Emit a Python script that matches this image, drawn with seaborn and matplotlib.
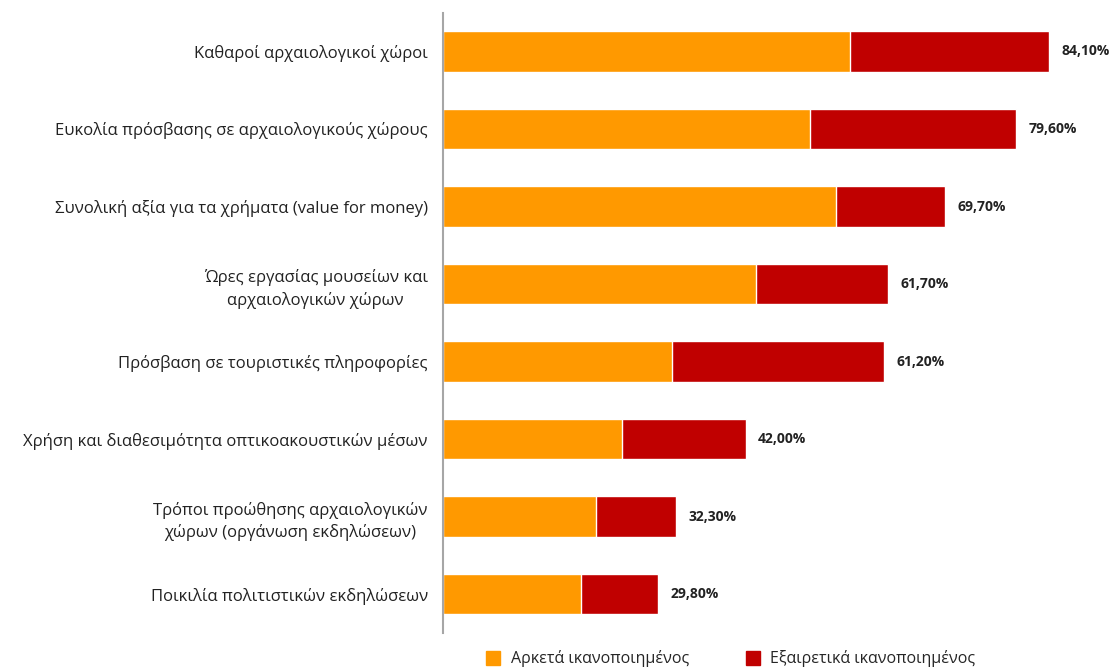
import pandas as pd
import seaborn as sns
import matplotlib.pyplot as plt
from matplotlib.lines import Line2D

categories = [
    "Καθαροί αρχαιολογικοί χώροι",
    "Ευκολία πρόσβασης σε αρχαιολογικούς χώρους",
    "Συνολική αξία για τα χρήματα (value for money)",
    "Ώρες εργασίας μουσείων και\nαρχαιολογικών χώρων",
    "Πρόσβαση σε τουριστικές πληροφορίες",
    "Χρήση και διαθεσιμότητα οπτικοακουστικών μέσων",
    "Τρόποι προώθησης αρχαιολογικών\nχώρων (οργάνωση εκδηλώσεων)",
    "Ποικιλία πολιτιστικών εκδηλώσεων",
]
arketa = [56.5, 50.9, 54.5, 43.4, 31.8, 24.9, 21.2, 19.2]
totals = [84.1, 79.6, 69.7, 61.7, 61.2, 42.0, 32.3, 29.8]
series_names = ["Αρκετά ικανοποιημένος", "Εξαιρετικά ικανοποιημένος"]

orange = "#FF9900"
red = "#C00000"

df = pd.DataFrame({"cat": categories, "arketa": arketa, "total": totals})
df["exairetika"] = df["total"] - df["arketa"]

sns.set_style("white")
plt.rcParams["font.family"] = ["Open Sans", "DejaVu Sans"]

fig = plt.figure(figsize=(11.14, 6.69), dpi=100)
ax = fig.add_axes([0.3977, 0.054, 0.582, 0.927])

# red = total, orange drawn on top of it
sns.barplot(data=df, x="total", y="cat", color=red, width=0.52,
            saturation=1, ax=ax, orient="h")
sns.barplot(data=df, x="arketa", y="cat", color=orange, width=0.52,
            saturation=1, ax=ax, orient="h")

labels = [f"{v:.2f}%".replace(".", ",") for v in totals]
ax.bar_label(ax.containers[0], labels=labels, padding=9,
             fontsize=10, fontweight="bold", color="#222222")

ax.set_xlim(0, 90)
ax.set_ylim(7.5, -0.5)
ax.set_xlabel("")
ax.set_ylabel("")
ax.set_xticks([])
for s in ["top", "right", "bottom"]:
    ax.spines[s].set_visible(False)
ax.spines["left"].set_color("#A6A6A6")
ax.spines["left"].set_linewidth(1.5)
ax.tick_params(axis="y", length=0, pad=11, labelsize=12)
for t in ax.get_yticklabels():
    t.set_multialignment("center")
    t.set_linespacing(1.45)
    t.set_color("#222222")

handles = [Line2D([], [], marker="s", linestyle="", color=c, markersize=10)
           for c in [orange, red]]
fig.legend(handles, series_names, loc="center", ncol=2,
           bbox_to_anchor=(0.652, 0.015), frameon=False, fontsize=11.5,
           handletextpad=0.1, columnspacing=3.0)

plt.savefig("out.png", dpi=100)
